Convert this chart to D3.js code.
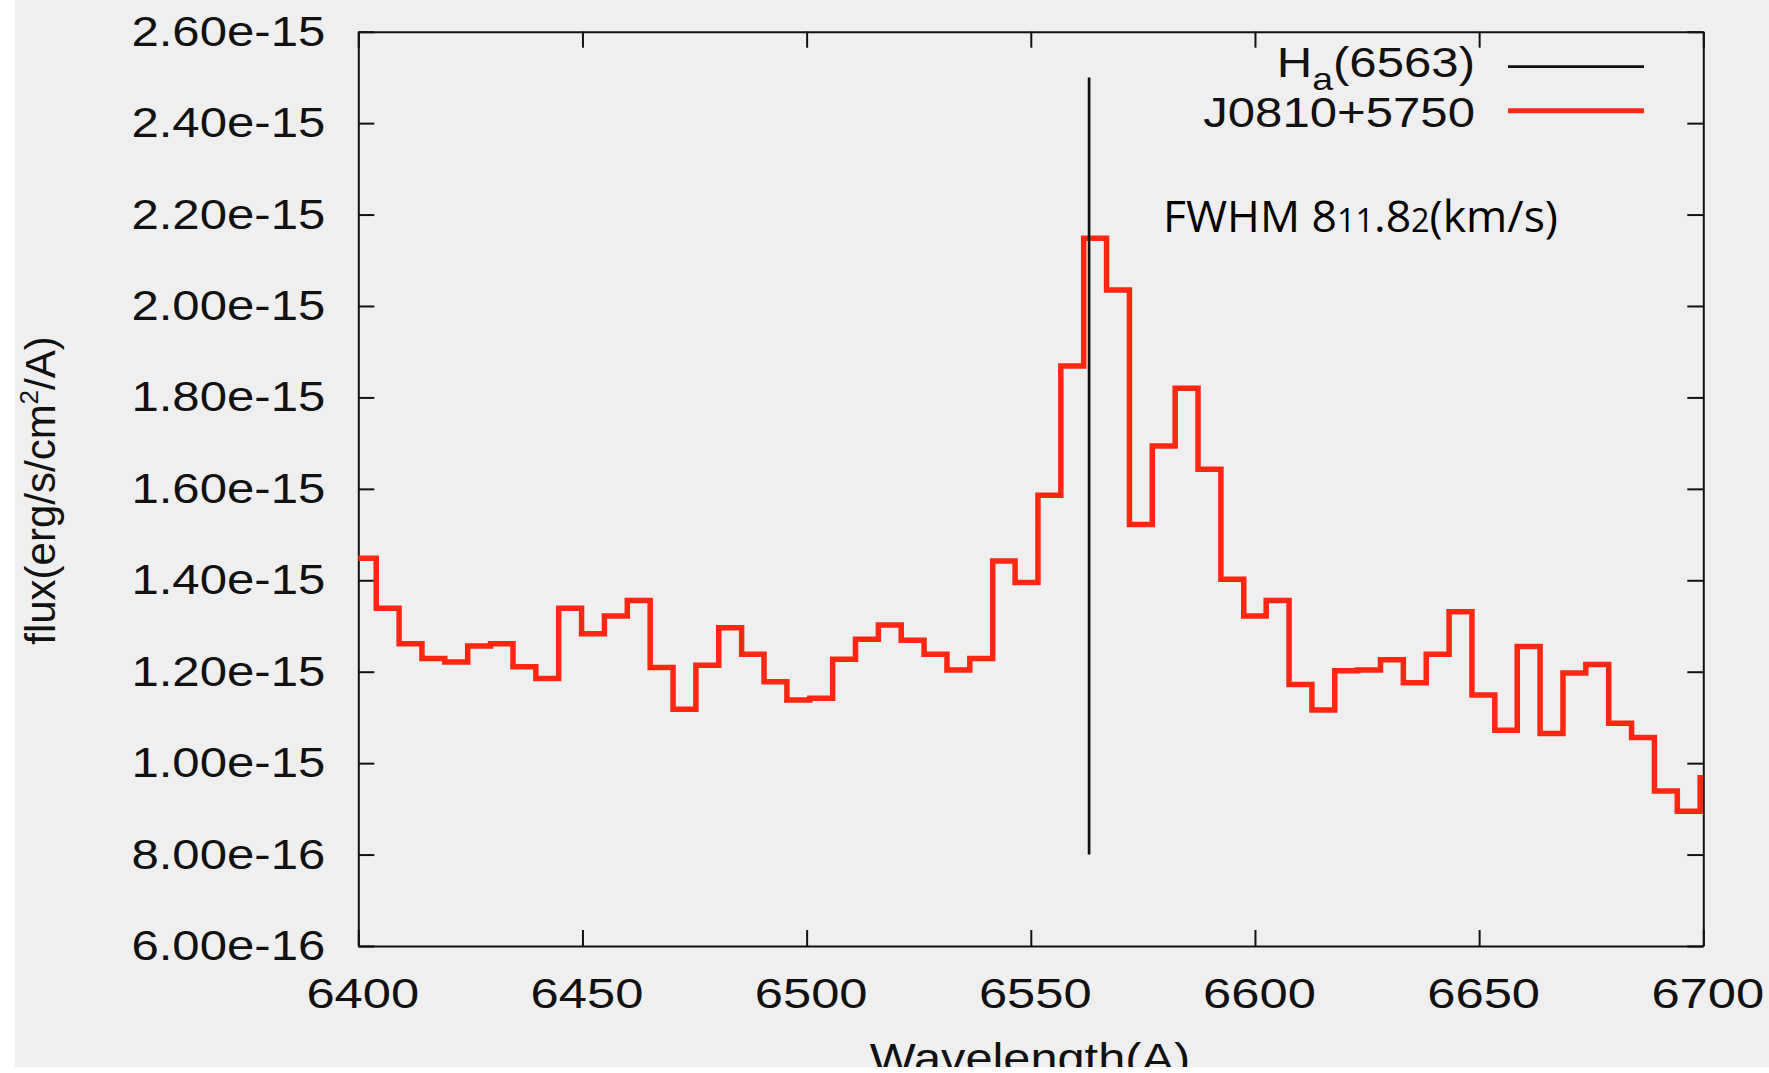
<!DOCTYPE html>
<html>
<head>
<meta charset="utf-8">
<script src="https://cdn.jsdelivr.net/npm/d3@7"></script>
<style>
  html, body { margin: 0; padding: 0; background: #efefef; }
  svg { display: block; }
</style>
</head>
<body>
<div id="chart"></div>
<script>
// left edge of each step (Angstrom) and the flux held until the next edge
var wavelengths = [
  6398.9, 6404.0, 6409.1, 6414.2, 6419.3, 6424.4, 6429.5, 6434.5, 6439.6, 6444.7,
  6449.8, 6454.9, 6460.0, 6465.1, 6470.2, 6475.3, 6480.4, 6485.5, 6490.5, 6495.6,
  6500.7, 6505.8, 6510.9, 6516.0, 6521.1, 6526.2, 6531.3, 6536.4, 6541.5, 6546.5,
  6551.6, 6556.7, 6561.8, 6566.9, 6572.0, 6577.1, 6582.2, 6587.3, 6592.4, 6597.5,
  6602.5, 6607.6, 6612.7, 6617.8, 6622.9, 6628.0, 6633.1, 6638.2, 6643.3, 6648.4,
  6653.5, 6658.5, 6663.6, 6668.7, 6673.8, 6678.9, 6684.0, 6689.1, 6694.2, 6699.3
];
var binEnd = 6704.4;
var flux = [
  1.448e-15, 1.339e-15, 1.261e-15, 1.229e-15, 1.221e-15, 1.256e-15, 1.261e-15, 1.211e-15, 1.185e-15, 1.339e-15,
  1.283e-15, 1.322e-15, 1.356e-15, 1.209e-15, 1.118e-15, 1.214e-15, 1.296e-15, 1.238e-15, 1.178e-15, 1.138e-15,
  1.142e-15, 1.227e-15, 1.271e-15, 1.302e-15, 1.269e-15, 1.238e-15, 1.204e-15, 1.229e-15, 1.442e-15, 1.395e-15,
  1.586e-15, 1.869e-15, 2.148e-15, 2.035e-15, 1.522e-15, 1.694e-15, 1.820e-15, 1.643e-15, 1.402e-15, 1.322e-15,
  1.356e-15, 1.172e-15, 1.116e-15, 1.202e-15, 1.204e-15, 1.226e-15, 1.176e-15, 1.238e-15, 1.331e-15, 1.149e-15,
  1.072e-15, 1.255e-15, 1.065e-15, 1.197e-15, 1.216e-15, 1.087e-15, 1.056e-15, 0.939e-15, 0.895e-15, 0.968e-15
];
var xTicks = [6400, 6450, 6500, 6550, 6600, 6650, 6700];
var yTicks = [6e-16, 8e-16, 1e-15, 1.2e-15, 1.4e-15, 1.6e-15, 1.8e-15, 2.0e-15, 2.2e-15, 2.4e-15, 2.6e-15];
var halpha = { wavelength: 6563, from: 8e-16, to: 2.5e-15 };
var legendLabels = ["(6563)", "J0810+5750"];
var fwhmText = "FWHM 811.82(km/s)";

var W = 1769, H = 1073;
var margin = { left: 358.3, right: W - 1703.3, top: 31.7, bottom: H - 946 };
var sx = 1.17; // the original bitmap was stretched sideways
var helv = "'Liberation Sans', Arial, Helvetica, sans-serif";
var red = "#ff2612";

var svg = d3.select("#chart").append("svg")
  .attr("width", W).attr("height", H)
  .attr("xmlns", "http://www.w3.org/2000/svg");

svg.append("rect").attr("width", W).attr("height", H).attr("fill", "#efefef");

var x = d3.scaleLinear().domain([6400, 6700]).range([margin.left, W - margin.right]);
var y = d3.scaleLinear().domain([6e-16, 2.6e-15]).range([H - margin.bottom, margin.top]);

function styleAxis(g) {
  g.selectAll("path, line").attr("stroke", "#111").attr("stroke-width", 2);
  g.selectAll("text").attr("fill", "#111").style("font-family", helv).style("font-size", "42px");
}

// mirror ticks on top and right, no labels
svg.append("g").attr("transform", "translate(0," + margin.top + ")")
  .call(d3.axisTop(x).tickValues(xTicks).tickSizeInner(-16).tickSizeOuter(0).tickFormat(""))
  .call(styleAxis);
svg.append("g").attr("transform", "translate(" + (W - margin.right) + ",0)")
  .call(d3.axisRight(y).tickValues(yTicks).tickSizeInner(-16).tickSizeOuter(0).tickFormat(""))
  .call(styleAxis);

var xAxis = svg.append("g").attr("transform", "translate(0," + (H - margin.bottom) + ")")
  .call(d3.axisBottom(x).tickValues(xTicks).tickSizeInner(-16).tickSizeOuter(0).tickPadding(31)
    .tickFormat(d3.format("d")))
  .call(styleAxis);
xAxis.selectAll(".tick text").style("font-size", "43px").attr("transform", "translate(4,0) scale(1.18,1)");

var yAxis = svg.append("g").attr("transform", "translate(" + margin.left + ",0)")
  .call(d3.axisLeft(y).tickValues(yTicks).tickSizeInner(-16).tickSizeOuter(0).tickPadding(33)
    .tickFormat(function (d) { return d.toExponential(2); }))
  .call(styleAxis);
yAxis.selectAll(".tick text").attr("x", -33 / sx).attr("transform", "scale(" + sx + ",1)");

// axis titles
svg.append("text")
  .attr("transform", "translate(1030,1073) scale(1.16,1)")
  .attr("text-anchor", "middle")
  .style("font-family", helv).style("font-size", "42px").attr("fill", "#111")
  .text("Wavelength(A)");

var yTitle = svg.append("text")
  .attr("transform", "translate(55,490.5) rotate(-90)")
  .attr("text-anchor", "middle")
  .style("font-family", helv).style("font-size", "42px").attr("fill", "#111");
yTitle.append("tspan").text("flux(erg/s/cm");
yTitle.append("tspan").attr("dy", -17).style("font-size", "26px").text("2");
yTitle.append("tspan").attr("dy", 17).text("/A)");

// spectrum as steps
svg.append("clipPath").attr("id", "plotClip").append("rect")
  .attr("x", margin.left).attr("y", margin.top)
  .attr("width", W - margin.left - margin.right).attr("height", H - margin.top - margin.bottom);

var pts = wavelengths.map(function (w, i) { return [w, flux[i]]; });
pts.push([binEnd, flux[flux.length - 1]]);

var line = d3.line()
  .x(function (d) { return x(d[0]); })
  .y(function (d) { return y(d[1]); })
  .curve(d3.curveStepAfter);

svg.append("path")
  .datum(pts)
  .attr("clip-path", "url(#plotClip)")
  .attr("fill", "none")
  .attr("stroke", red)
  .attr("stroke-width", 5.5)
  .attr("stroke-linejoin", "miter")
  .attr("d", line);

// H-alpha marker
svg.append("line")
  .attr("x1", x(halpha.wavelength)).attr("x2", x(halpha.wavelength))
  .attr("y1", y(halpha.from)).attr("y2", y(halpha.to))
  .attr("stroke", "#111").attr("stroke-width", 2.7);

// legend
var leg1 = svg.append("text")
  .attr("transform", "translate(1475,76.7) scale(" + sx + ",1)")
  .attr("text-anchor", "end")
  .style("font-family", helv).style("font-size", "42px").attr("fill", "#111");
leg1.append("tspan").text("H");
leg1.append("tspan").attr("dy", 13).style("font-size", "32px").text("a");
leg1.append("tspan").attr("dy", -13).text(legendLabels[0]);

svg.append("text")
  .attr("transform", "translate(1475,126.7) scale(" + sx + ",1)")
  .attr("text-anchor", "end")
  .style("font-family", helv).style("font-size", "42px").attr("fill", "#111")
  .text(legendLabels[1]);

svg.append("line").attr("x1", 1508).attr("x2", 1644).attr("y1", 66.7).attr("y2", 66.7)
  .attr("stroke", "#111").attr("stroke-width", 2.7);
svg.append("line").attr("x1", 1508).attr("x2", 1644).attr("y1", 110.7).attr("y2", 110.7)
  .attr("stroke", red).attr("stroke-width", 5);

// FWHM note, old style figures imitated with smaller 1s and 2
var note = svg.append("text")
  .attr("x", 1163).attr("y", 232.3)
  .attr("textLength", 395).attr("lengthAdjust", "spacingAndGlyphs")
  .style("font-family", "'Open Sans', sans-serif").style("font-size", "44px").attr("fill", "#000");
var parts = [["FWHM 8", 44], ["11", 32], [".8", 44], ["2", 32], ["(km/s)", 44]];
var k = 0;
parts.forEach(function (p) {
  note.append("tspan").style("font-size", p[1] + "px").text(fwhmText.substr(k, p[0].length));
  k += p[0].length;
});

// white borders of the original screenshot
svg.append("rect").attr("x", 0).attr("y", 0).attr("width", 15).attr("height", H).attr("fill", "#fff");
svg.append("rect").attr("x", 0).attr("y", 1067).attr("width", W).attr("height", H - 1067).attr("fill", "#fff");
</script>
</body>
</html>
